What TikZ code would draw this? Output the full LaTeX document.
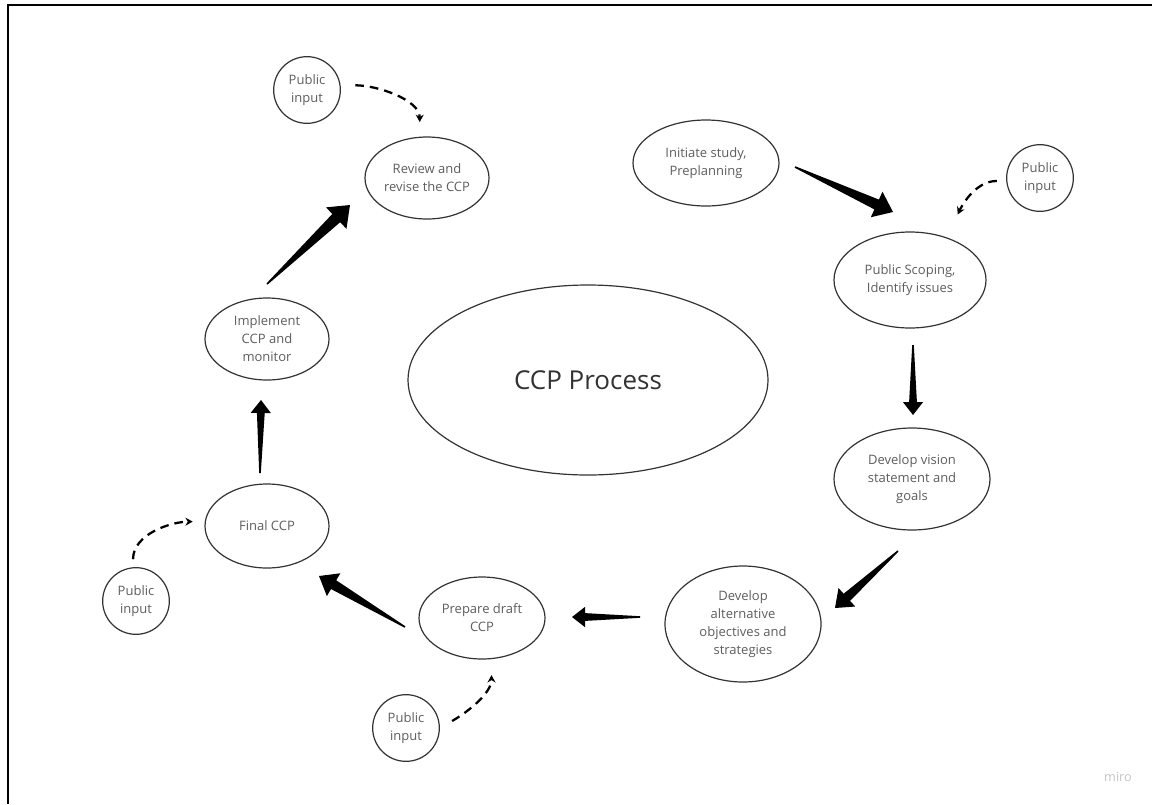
\documentclass[tikz,border=0pt]{standalone}
\usepackage{fontspec}
\setmainfont{Open Sans}
\usetikzlibrary{shapes.geometric,arrows.meta,calc}

\definecolor{inkgray}{HTML}{333333}
\definecolor{txtgray}{HTML}{5E5E5E}
\definecolor{wmgray}{HTML}{C4C4C4}

% tapered block arrow: tail, head, head length
\newcommand{\bigarrow}[3]{
  \coordinate (hb) at ($(#2)!#3!(#1)$);
  \fill[arrowfill] ($(#1)!0.6pt!90:(#2)$) -- ($(hb)!0.3*#3!90:(#2)$) -- ($(hb)!0.78*#3!90:(#2)$) -- (#2)
    -- ($(hb)!0.78*#3!-90:(#2)$) -- ($(hb)!0.3*#3!-90:(#2)$) -- ($(#1)!0.6pt!-90:(#2)$) -- cycle;
}

\begin{document}
\begin{tikzpicture}
  [x=0.75pt, y=-0.75pt,
   phase/.style={shape=ellipse, draw=inkgray, line width=0.9pt, inner sep=0pt, align=center,
     text=txtgray, font=\fontsize{9.75}{13.5}\selectfont},
   inputbub/.style={shape=circle, draw=inkgray, line width=0.9pt, inner sep=0pt, minimum size=50pt,
     align=center, text=txtgray, font=\fontsize{9.75}{13.5}\selectfont},
   arrowfill/.style={fill=black},
   feed/.style={line width=1.7pt, dash pattern=on 6.5pt off 4.5pt, -{Stealth[length=5.5pt,width=6pt]}}]

\useasboundingbox (0,0) rectangle (1152,804);
\fill[white] (0,0) rectangle (1152,804);
\draw[line width=2.2pt] (1152,5) -- (8,5) -- (8,804);

% centre
\node (ccp) at (588,380) [phase, minimum width=270pt, minimum height=142.5pt,
  text=inkgray, font=\fontsize{19.5}{24}\selectfont] {CCP Process};

% stages
\node (init)    at (706,163) [phase, minimum width=109.5pt, minimum height=64.5pt] {Initiate study,\\Preplanning};
\node (scoping) at (910,280) [phase, minimum width=114pt, minimum height=72pt] {Public Scoping,\\Identify issues};
\node (devvis)  at (912,479) [phase, minimum width=117pt, minimum height=76.5pt] {Develop vision\\statement and\\goals};
\node (devalt)  at (743,624) [phase, minimum width=117pt, minimum height=87pt] {Develop\\alternative\\objectives and\\strategies};
\node (prep)    at (482,618) [phase, minimum width=94.5pt, minimum height=61.5pt] {Prepare draft\\CCP};
\node (final)   at (267,526) [phase, minimum width=93pt, minimum height=63pt] {Final CCP};
\node (impl)    at (267,339) [phase, minimum width=93pt, minimum height=61.5pt] {Implement\\CCP and\\monitor};
\node (review)  at (427,178) [phase, minimum width=93pt, minimum height=61.5pt] {Review and\\revise the CCP};

% public input
\node (in1) at (307,90)  [inputbub] {Public\\input};
\node (in2) at (1040,178) [inputbub] {Public\\input};
\node (in3) at (136,601) [inputbub] {Public\\input};
\node (in4) at (406,728) [inputbub] {Public\\input};

% block arrows
\coordinate (T1) at (795,167); \coordinate (H1) at (893,212);
\coordinate (T2) at (913,345); \coordinate (H2) at (913,415);
\coordinate (T3) at (898,551); \coordinate (H3) at (835,608);
\coordinate (T4) at (640,617); \coordinate (H4) at (572,617);
\coordinate (T5) at (405,627); \coordinate (H5) at (319,576);
\coordinate (T6) at (260,473); \coordinate (H6) at (261,400);
\coordinate (T7) at (267,284); \coordinate (H7) at (350,205);

\bigarrow{T1}{H1}{13.5pt}
\bigarrow{T2}{H2}{9.75pt}
\bigarrow{T3}{H3}{12pt}
\bigarrow{T4}{H4}{9.75pt}
\bigarrow{T5}{H5}{12.75pt}
\bigarrow{T6}{H6}{9.75pt}
\bigarrow{T7}{H7}{14.25pt}

% dashed feeds
\draw[feed, shorten <=11pt, shorten >=11pt] (in1.8) to[out=0,in=90] (review.100);
\draw[feed, shorten <=7pt, shorten >=19pt] (in2.185) to[out=180,in=65] (scoping.49);
\draw[feed, shorten <=6pt, shorten >=9pt] (in3.95) to[out=90,in=180] (final.176);
\draw[feed, shorten <=10.5pt, shorten >=12pt] (in4.east) to[out=30,in=-90] (prep.-77);

\node (miro) at (1118,777) [text=wmgray, font=\fontsize{9.5}{11}\selectfont] {miro};

\end{tikzpicture}
\end{document}
